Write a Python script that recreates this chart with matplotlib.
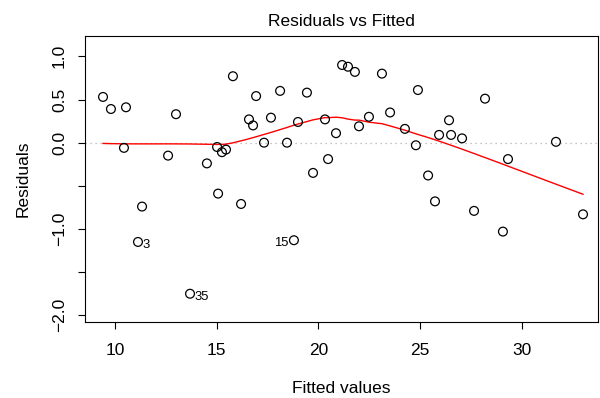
import numpy as np
import matplotlib
matplotlib.use("Agg")
import matplotlib.pyplot as plt

plt.rcParams['font.family'] = ['Liberation Sans', 'DejaVu Sans']

fitted = [9.41, 9.80, 10.54, 10.44, 11.33, 11.13, 12.61, 13.0, 13.69, 14.52,
          15.02, 15.07, 15.26, 15.46, 15.8, 16.2, 16.59, 16.79, 16.94, 17.33,
          17.67, 18.12, 18.46, 18.80, 19.0, 19.44, 19.74, 20.33, 20.48, 20.87,
          21.17, 21.46, 21.80, 22.0, 22.49, 23.13, 23.53, 24.26, 24.8, 24.9,
          25.4, 25.74, 25.94, 26.43, 26.53, 27.07, 27.66, 28.2, 29.08, 29.33,
          31.69, 33.02]
resid = [0.53, 0.39, 0.41, -0.06, -0.74, -1.15, -0.15, 0.33, -1.75, -0.24,
         -0.05, -0.59, -0.11, -0.08, 0.77, -0.71, 0.27, 0.20, 0.54, 0.00,
         0.29, 0.60, 0.00, -1.13, 0.24, 0.58, -0.35, 0.27, -0.19, 0.11,
         0.90, 0.88, 0.82, 0.19, 0.30, 0.80, 0.35, 0.16, -0.03, 0.61,
         -0.38, -0.68, 0.09, 0.26, 0.09, 0.05, -0.79, 0.51, -1.03, -0.19,
         0.01, -0.83]
labels = {"3": 5, "35": 8, "15": 23}
xticks = [10, 15, 20, 25, 30]
yticks = [-2.0, -1.5, -1.0, -0.5, 0.0, 0.5, 1.0]
yticklabels = ['\u22122.0', '', '\u22121.0', '', '0.0', '0.5', '1.0']


def lowess(x, y, f=2/3, iters=3):
    x = np.asarray(x, float)
    y = np.asarray(y, float)
    o = np.argsort(x)
    x, y = x[o], y[o]
    n = len(x)
    ns = max(min(int(np.floor(f * n + 1e-7)), n), 2)
    rw = np.ones(n)
    ys = np.zeros(n)
    for it in range(iters + 1):
        for i in range(n):
            d = np.abs(x - x[i])
            h = np.sort(d)[ns - 1]
            u = np.clip(d / h, 0, 1) if h > 0 else (d > 0).astype(float)
            w = (1 - u ** 3) ** 3 * rw
            sw = w.sum()
            xm = (w * x).sum() / sw
            ym = (w * y).sum() / sw
            sxx = (w * (x - xm) ** 2).sum()
            b = (w * (x - xm) * (y - ym)).sum() / sxx if sxx > 1e-12 else 0.0
            ys[i] = ym + b * (x[i] - xm)
        if it == iters:
            break
        res = y - ys
        s = np.median(np.abs(res))
        if s == 0:
            break
        u = np.clip(np.abs(res) / (6 * s), 0, 1)
        rw = (1 - u ** 2) ** 2
    return x, ys


fig = plt.figure(figsize=(6.0, 3.98), dpi=100)
ax = fig.add_axes([85 / 600, 1 - 321.7 / 398, (598 - 85) / 600, (321.7 - 36) / 398])

ax.axhline(0, color='#b0b0b0', linestyle=(0, (1, 3)), linewidth=0.9, zorder=1)
ax.scatter(fitted, resid, s=40, facecolors='none', edgecolors='black', linewidths=0.9, zorder=3)
lx, ly = lowess(fitted, resid)
ax.plot(lx, ly, color='red', linewidth=1.0, zorder=2)

for lab, i in labels.items():
    if lab == "15":
        ax.annotate(lab, (fitted[i], resid[i]), xytext=(-4, -2), textcoords='offset points',
                    ha='right', va='center', fontsize=9.4)
    else:
        ax.annotate(lab, (fitted[i], resid[i]), xytext=(3.5, -2.5), textcoords='offset points',
                    ha='left', va='center', fontsize=9.4)

ax.set_xlim(8.524, 33.757)
ax.set_ylim(-2.074, 1.236)
ax.set_xticks(xticks)
ax.set_yticks(yticks)
ax.set_yticklabels(yticklabels)
for t in ax.get_yticklabels():
    t.set_rotation(90)
    t.set_va('center')
ax.tick_params(direction='out', length=5, width=0.8, labelsize=12.5, pad=10)
ax.tick_params(axis='y', pad=8)
for sp in ax.spines.values():
    sp.set_linewidth(0.8)

ax.set_title('Residuals vs Fitted', fontsize=12.5, pad=7)
ax.set_xlabel('Fitted values', fontsize=12.5, labelpad=17)
ax.set_ylabel('Residuals', fontsize=12.5, labelpad=15)

fig.savefig('out.png', dpi=100)
